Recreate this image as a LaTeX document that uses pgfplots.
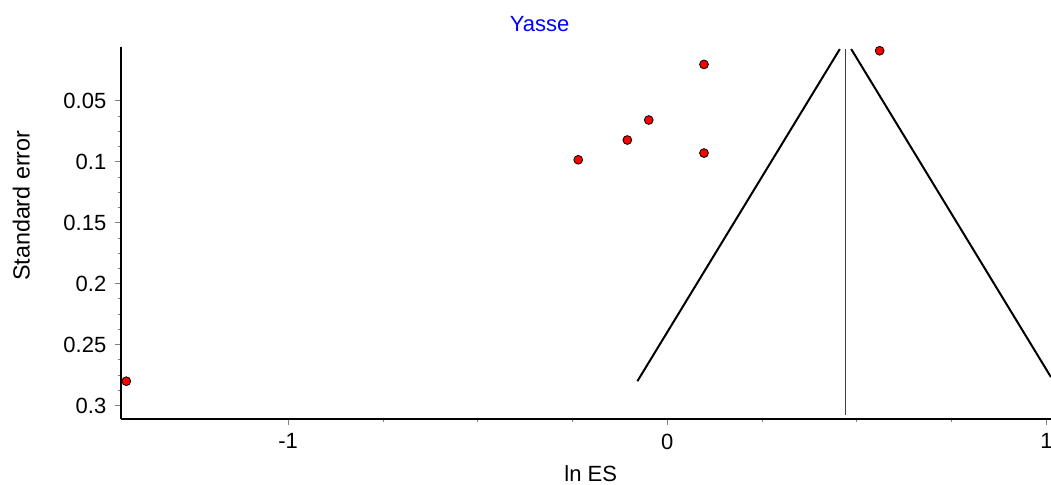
\documentclass[border=0pt]{standalone}
\usepackage{pgfplots}
\pgfplotsset{compat=1.18}
\usepackage{fontspec}
\setmainfont{Liberation Sans}
\begin{document}
\begin{tikzpicture}[x=1pt,y=1pt]
\useasboundingbox (0,0) rectangle (788.25,363.75);
\begin{axis}[
    at={(90.75pt,49.5pt)}, anchor=south west,
    scale only axis,
    width=697.5pt, height=279.2pt,
    axis x line=bottom, axis y line=left,
    axis line style={line width=1.5pt,-},
    y dir=reverse,
    xmin=-1.441, xmax=1.012,
    ymin=0.0057, ymax=0.311,
    xtick={-1,0,1},
    xticklabels={-1,0,1},
    ytick={0.05,0.1,0.15,0.2,0.25,0.3},
    yticklabels={0.05,0.1,0.15,0.2,0.25,0.3},
    minor x tick num=3,
    minor y tick num=3,
    tick align=outside,
    major tick length=4.5pt,
    minor tick length=2.5pt,
    tick style={gray, line width=0.6pt},
    ticklabel style={font=\fontsize{16.5}{18}\selectfont},
    yticklabel style={xshift=-3pt},
    xticklabel style={yshift=-3pt},
    clip=false,
]
% funnel limits (pooled estimate +/- 1.96 SE)
\addplot[black, line width=1.5pt] coordinates {(0.455,0.0076) (-0.079,0.280)};
\addplot[black, line width=1.5pt] coordinates {(0.485,0.0076) (1.012,0.2767)};
% pooled estimate
\addplot[black!75, line width=0.8pt] coordinates {(0.4697,0.0076) (0.4697,0.308)};
% studies
\addplot[only marks, mark=*, mark size=3.3pt,
    mark options={fill=red, draw=black, line width=0.6pt}] coordinates {
    (-1.427,0.280)
    (-0.235,0.0984)
    (-0.1055,0.0822)
    (-0.049,0.0658)
    (0.0967,0.0202)
    (0.0967,0.0929)
    (0.560,0.0090)
};
\node[text=blue, font=\fontsize{16.5}{18}\selectfont] at (axis cs:-0.337,-0.0129) {Yasse};
\node[font=\fontsize{16.5}{18}\selectfont] at (axis cs:-0.202,0.3555) {ln ES};
\node[rotate=90, font=\fontsize{17.5}{19}\selectfont] at (axis cs:-1.704,0.1361) {Standard error};
\end{axis}
\end{tikzpicture}
\end{document}
